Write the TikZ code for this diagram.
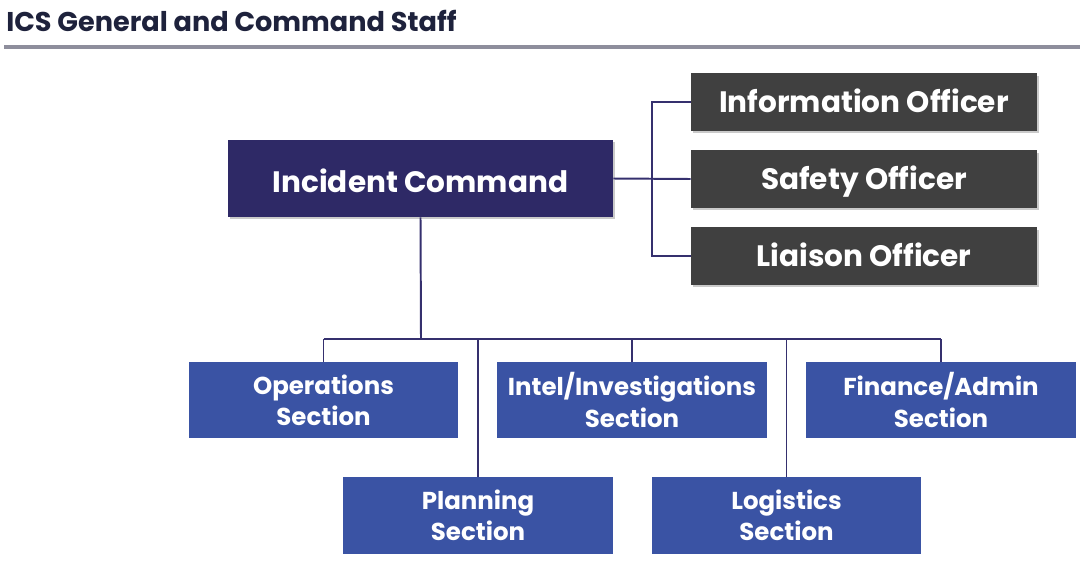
\documentclass[tikz,border=0pt]{standalone}
\usepackage{fontspec}
\setmainfont{Poppins}
\usepackage{tikz}
\usetikzlibrary{positioning, shadows}
\definecolor{icsnavy}{RGB}{46,41,102}
\definecolor{icsblue}{RGB}{58,83,164}
\definecolor{icsgray}{RGB}{64,64,64}
\definecolor{icsline}{RGB}{53,48,110}
\definecolor{icsrule}{RGB}{142,142,156}
\definecolor{icstitle}{RGB}{30,34,60}
\tikzset{
  boxshadow/.style={drop shadow={shadow xshift=0.05cm, shadow yshift=-0.06cm, opacity=0.35, fill=black!60}},
  cmdbox/.style={rectangle, fill=icsnavy, text=white, minimum width=9.625cm,
    minimum height=1.925cm, inner sep=0pt, text height=19.2pt, text depth=0pt,
    font=\fontsize{21}{24}\selectfont\bfseries, boxshadow},
  offbox/.style={rectangle, fill=icsgray, text=white, minimum width=8.65cm,
    minimum height=1.43cm, inner sep=0pt, text height=15.6pt, text depth=0pt,
    font=\fontsize{21}{24}\selectfont\bfseries, boxshadow},
  secbox/.style={rectangle, fill=icsblue, text=white, minimum width=6.725cm,
    minimum height=1.9cm, inner sep=0pt, align=center,
    font=\fontsize{17.4}{22.3}\selectfont\bfseries},
  link/.style={line width=1.4pt, color=icsline}
}
\begin{document}
\begin{tikzpicture}[x=0.025cm, y=-0.025cm]
  \useasboundingbox (0,0) rectangle (1080,560);

  % Title and rule
  \node[anchor=base west, inner sep=0pt, text=icstitle, font=\fontsize{19.3}{23}\selectfont\bfseries] (title) at (6,31) {ICS General and Command Staff};
  \draw[line width=2.8pt, color=icsrule] (4,47) -- (1080,47);

  % Command and officers
  \node[cmdbox] (ic) at (420.5,178.5) {Incident Command};
  \node[offbox] (info) at (864,102) {Information Officer};
  \node[offbox] (safety) at (864,179) {Safety Officer};
  \node[offbox] (liaison) at (864,256) {Liaison Officer};

  % Sections
  \node[secbox] (ops) at (323.5,400) {Operations\\Section};
  \node[secbox] (intel) at (632,400) {Intel/Investigations\\Section};
  \node[secbox] (fin) at (941,400) {Finance/Admin\\Section};
  \node[secbox] (plan) at (478,515.5) {Planning\\Section};
  \node[secbox] (log) at (786.5,515.5) {Logistics\\Section};

  % Connectors
  \coordinate (spine) at (652,179);
  \coordinate (bus) at (421,339);
  \draw[link] (ic.east) -- (safety.west);
  \draw[link] (info.west) -| (spine) |- (liaison.west);
  \draw[link] (ic.south) -- (bus);
  \draw[link] (ops.north |- bus) -- (fin.north |- bus);
  \foreach \sec in {ops, intel, fin, plan, log}
    \draw[link] (\sec.north) -- (\sec.north |- bus);
\end{tikzpicture}
\end{document}
